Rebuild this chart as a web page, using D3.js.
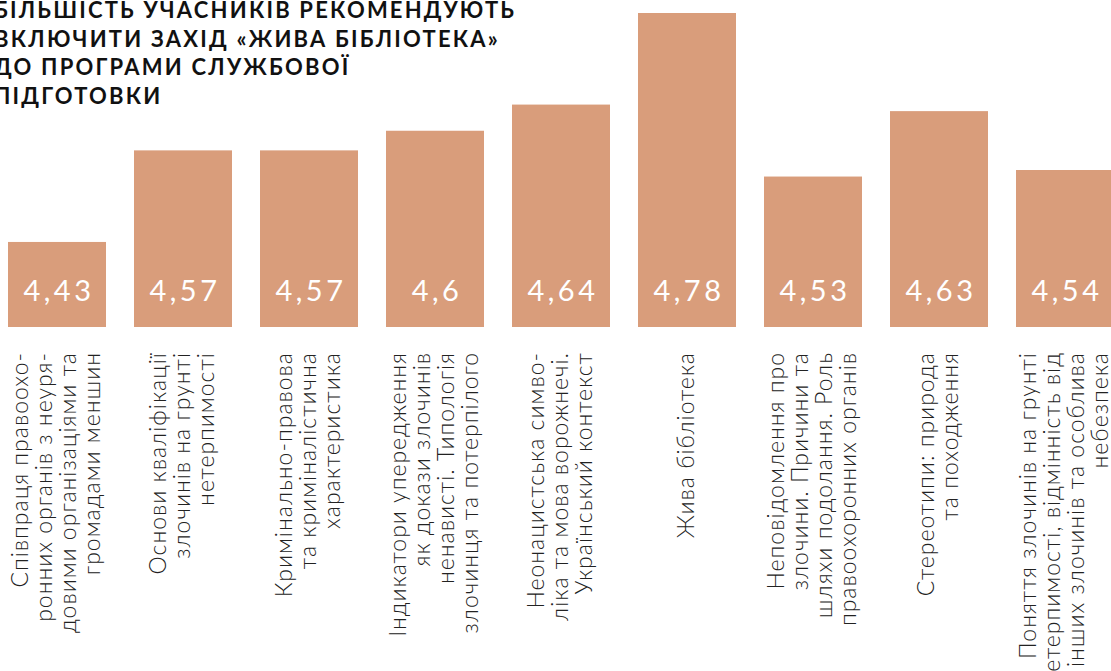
<!DOCTYPE html>
<html>
<head>
<meta charset="utf-8">
<script src="https://cdn.jsdelivr.net/npm/d3@7"></script>
<style>
  html, body { margin: 0; padding: 0; background: #fff; }
  svg { display: block; }
</style>
</head>
<body>
<svg id="chart" width="1111" height="671"></svg>
<script>
const titleLines = [
  "БІЛЬШІСТЬ УЧАСНИКІВ РЕКОМЕНДУЮТЬ",
  "ВКЛЮЧИТИ ЗАХІД «ЖИВА БІБЛІОТЕКА»",
  "ДО ПРОГРАМИ СЛУЖБОВОЇ",
  "ПІДГОТОВКИ"
];
const categories = [
  ["Співпраця правоохо-", "ронних органів з неуря-", "довими організаціями та", "громадами меншин"],
  ["Основи кваліфікації", "злочинів на грунті", "нетерпимості"],
  ["Кримінально-правова", "та криміналістична", "характеристика"],
  ["Індикатори упередження", "як докази злочинів", "ненависті. Типологія", "злочинця та потерпілого"],
  ["Неонацистська симво-", "ліка та мова ворожнечі.", "Український контекст"],
  ["Жива бібліотека"],
  ["Неповідомлення про", "злочини. Причини та", "шляхи подолання. Роль", "правоохоронних органів"],
  ["Стереотипи: природа", "та походження"],
  ["Поняття злочинів на грунті", "нетерпимості, відмінність від", "інших злочинів та особлива", "небезпека"]
];
const values = [4.43, 4.57, 4.57, 4.6, 4.64, 4.78, 4.53, 4.63, 4.54];
const valueLabels = ["4,43", "4,57", "4,57", "4,6", "4,64", "4,78", "4,53", "4,63", "4,54"];

const barColor = "#d99d7b";
const svg = d3.select("#chart");

const idx = d3.range(values.length);
const x = d3.scaleBand().domain(idx).range([8, 8 + 126 * values.length - 28]).paddingInner(28 / 126).paddingOuter(0);
const y = d3.scaleLinear().domain([4.3, 4.78]).range([327, 13]);

// title
const title = svg.append("text")
  .style("font-family", "Lato, 'Noto Sans', sans-serif")
  .style("font-weight", 700)
  .style("font-size", "22px")
  .style("letter-spacing", "2.2px")
  .style("fill", "#111");
titleLines.forEach((t, i) => {
  title.append("tspan").attr("x", -6).attr("y", 18 + i * 28.5).text(t);
});

// bars
svg.selectAll("rect.bar").data(idx).join("rect")
  .attr("class", "bar")
  .attr("x", d => x(d))
  .attr("width", x.bandwidth())
  .attr("y", d => y(values[d]))
  .attr("height", d => y.range()[0] - y(values[d]))
  .attr("fill", barColor);

// value labels
svg.selectAll("text.val").data(idx).join("text")
  .attr("class", "val")
  .attr("x", d => x(d) + x.bandwidth() / 2 + 2)
  .attr("y", 301)
  .attr("text-anchor", "middle")
  .style("font-family", "Lato, sans-serif")
  .style("font-size", "29px")
  .style("letter-spacing", "3.5px")
  .style("fill", "#fff")
  .text(d => valueLabels[d]);

// category labels (rotated)
const lh = 24.3;
const g = svg.selectAll("g.lab").data(idx).join("g")
  .attr("class", "lab")
  .attr("transform", d => `translate(${x(d) + x.bandwidth() / 2},352) rotate(-90)`);
g.each(function(d) {
  const lines = categories[d];
  const n = lines.length;
  const t = d3.select(this).append("text")
    .attr("text-anchor", "end")
    .style("font-family", "Lato, sans-serif")
    .style("font-weight", 300)
    .style("font-size", "23px")
    .style("letter-spacing", "1px")
    .style("fill", "#222");
  lines.forEach((ln, i) => {
    t.append("tspan").attr("x", 0).attr("y", (i - (n - 1) / 2) * lh + 7).text(ln);
  });
});
</script>
</body>
</html>
